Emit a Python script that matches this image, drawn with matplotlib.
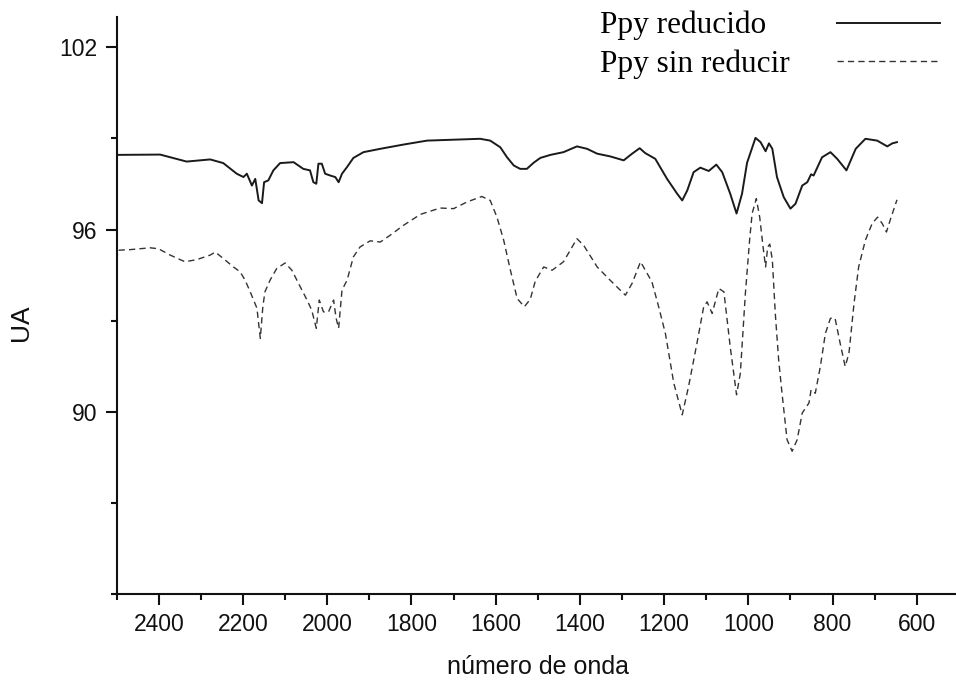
import numpy as np
import matplotlib
matplotlib.use("Agg")
import matplotlib.pyplot as plt
from matplotlib.ticker import MultipleLocator

# espectro Ppy reducido (numero de onda, UA)
w_red = [2500, 2397, 2334, 2278, 2247, 2215, 2199, 2191, 2179, 2171, 2163, 2155,
         2150, 2140, 2128, 2112, 2080, 2057, 2041, 2033, 2026, 2021, 2013, 2005,
         1993, 1981, 1973, 1965, 1953, 1938, 1914, 1874, 1819, 1763, 1700, 1637,
         1613, 1589, 1573, 1557, 1542, 1526, 1510, 1494, 1470, 1439, 1407, 1383,
         1359, 1328, 1296, 1276, 1258, 1245, 1221, 1193, 1169, 1157, 1145, 1130,
         1114, 1094, 1076, 1062, 1043, 1028, 1015, 1003, 983, 971, 959, 951, 943,
         932, 916, 900, 888, 872, 860, 851, 845, 825, 805, 789, 767, 745, 722, 694,
         670, 658, 647]
ua_red = [98.46, 98.47, 98.24, 98.31, 98.19, 97.84, 97.73, 97.84, 97.45, 97.67, 96.96, 96.87,
          97.56, 97.62, 97.95, 98.19, 98.22, 98.00, 97.95, 97.56, 97.51, 98.17, 98.17, 97.84,
          97.78, 97.73, 97.56, 97.84, 98.06, 98.36, 98.55, 98.66, 98.80, 98.93, 98.96, 98.99,
          98.93, 98.71, 98.38, 98.11, 98.00, 98.00, 98.20, 98.36, 98.46, 98.55, 98.74, 98.66,
          98.50, 98.41, 98.28, 98.50, 98.68, 98.52, 98.33, 97.67, 97.18, 96.96, 97.29, 97.89,
          98.04, 97.93, 98.14, 97.89, 97.18, 96.53, 97.18, 98.20, 99.02, 98.88, 98.58, 98.84, 98.66,
          97.73, 97.07, 96.69, 96.85, 97.45, 97.56, 97.82, 97.78, 98.38, 98.55, 98.33, 97.95, 98.66,
          98.99, 98.93, 98.74, 98.84, 98.88]

# espectro Ppy sin reducir
w_sin = [2500, 2497, 2468, 2421, 2401, 2373, 2338, 2310, 2278, 2266, 2247, 2223,
         2207, 2195, 2183, 2167, 2159, 2153, 2148, 2136, 2120, 2100, 2084, 2064,
         2048, 2037, 2026, 2019, 2009, 1997, 1985, 1979, 1973, 1965, 1953, 1938,
         1922, 1898, 1874, 1851, 1819, 1779, 1732, 1700, 1668, 1633, 1613, 1597,
         1581, 1565, 1549, 1532, 1518, 1506, 1486, 1466, 1439, 1407, 1391, 1359,
         1328, 1292, 1276, 1256, 1229, 1213, 1197, 1177, 1157, 1142, 1122, 1106,
         1098, 1086, 1070, 1058, 1043, 1028, 1019, 1007, 997, 991, 981, 973, 965,
         959, 954, 949, 943, 936, 928, 920, 908, 896, 884, 872, 856, 851, 841, 829,
         817, 805, 794, 782, 770, 761, 749, 738, 722, 706, 693, 682, 672, 662, 647]
ua_sin = [95.00, 95.32, 95.34, 95.40, 95.37, 95.16, 94.94, 95.01, 95.16, 95.26, 95.05, 94.77,
          94.61, 94.33, 93.95, 93.41, 92.42, 93.46, 93.95, 94.33, 94.72, 94.90, 94.66, 94.11,
          93.68, 93.35, 92.75, 93.68, 93.29, 93.29, 93.68, 93.08, 92.75, 94.01, 94.33, 95.10,
          95.43, 95.63, 95.59, 95.81, 96.14, 96.50, 96.71, 96.69, 96.91, 97.09, 96.96, 96.41,
          95.65, 94.66, 93.73, 93.46, 93.70, 94.30, 94.77, 94.66, 94.94, 95.70, 95.48, 94.77,
          94.33, 93.84, 94.23, 94.94, 94.28, 93.46, 92.58, 90.94, 89.90, 90.83, 92.26, 93.46,
          93.62, 93.24, 94.06, 93.95, 92.14, 90.56, 91.27, 93.90, 95.65, 96.53, 97.02, 96.41, 95.43,
          94.77, 95.43, 95.52, 95.00, 93.24, 91.71, 90.61, 89.08, 88.70, 89.08, 89.96, 90.29, 90.72, 90.61, 91.49,
          92.58, 93.08, 93.08, 92.26, 91.49, 91.93, 93.57, 94.77, 95.65, 96.20, 96.41, 96.20, 95.92, 96.36, 96.98]

xticks = [2400, 2200, 2000, 1800, 1600, 1400, 1200, 1000, 800, 600]
yticks = [90, 96, 102]

plt.rcParams['font.family'] = ['Liberation Sans', 'DejaVu Sans']

fig = plt.figure(figsize=(9.56, 6.81), dpi=100)
ax = fig.add_axes([0.1221, 0.1278, 0.8809, 0.8472])

ax.plot(w_red, ua_red, color='#1a1a1a', lw=1.4, label='Ppy reducido')
ax.plot(w_sin, ua_sin, color='#333333', lw=1.0, linestyle=(0, (4.5, 3)), label='Ppy sin reducir')

ax.set_xlim(2500, 500)
ax.set_ylim(84, 103)
ax.set_xticks(xticks)
ax.set_yticks(yticks)
ax.xaxis.set_minor_locator(MultipleLocator(100))
ax.yaxis.set_minor_locator(MultipleLocator(3))

for s in ['top', 'right']:
    ax.spines[s].set_visible(False)
for s in ['left', 'bottom']:
    ax.spines[s].set_linewidth(1.5)
    ax.spines[s].set_color('#111111')

ax.tick_params(which='major', direction='out', length=8, width=1.5, labelsize=16.5, pad=6, colors='#111111')
ax.tick_params(which='minor', direction='out', length=4.5, width=1.5, colors='#111111')

ax.set_xlabel('número de onda', fontsize=18, color='#111111')
ax.xaxis.set_label_coords(0.5, -0.105)
ax.set_ylabel('UA', fontsize=19, color='#111111')
ax.yaxis.set_label_coords(-0.099, 0.471)

leg = ax.legend(loc='upper left', bbox_to_anchor=(600 / 956, 1 - 11 / 681),
                bbox_transform=fig.transFigure, frameon=False, markerfirst=False,
                prop={'family': 'Liberation Serif', 'size': 22.5},
                handlelength=3.3, handletextpad=1.5, labelspacing=0.3,
                borderpad=0, borderaxespad=0)
# texto alineado a la izquierda, muestras de linea a la derecha
for col in leg._legend_handle_box.get_children():
    for row in col.get_children():
        row.mode = 'expand'
        row.width = 340

fig.savefig('out.png', dpi=100)
